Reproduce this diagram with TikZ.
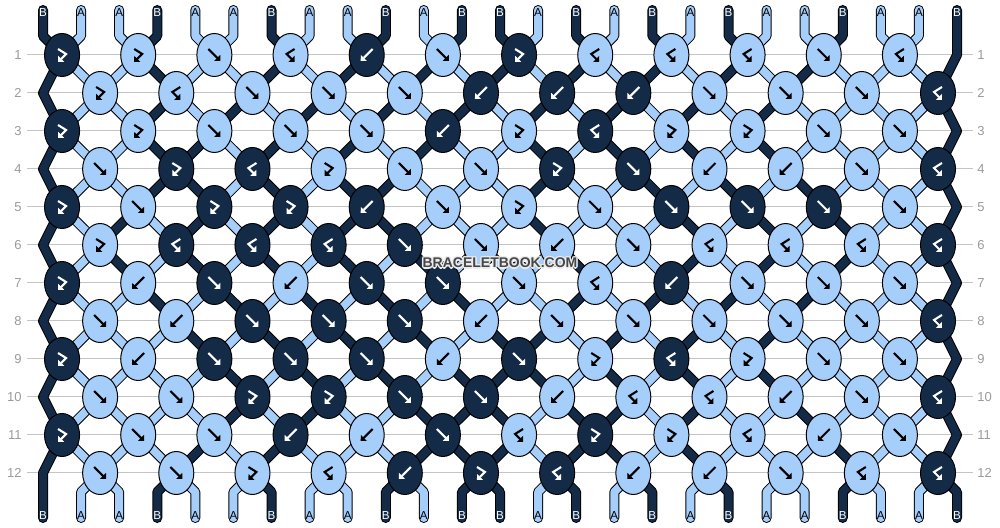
\documentclass[tikz,border=0pt]{standalone}
\usepackage{fontspec}
\setmainfont{Liberation Sans}
\usetikzlibrary{shapes.geometric,arrows.meta}
\definecolor{colA}{HTML}{A6CEFA}
\definecolor{colB}{HTML}{132B47}
\definecolor{rowgray}{HTML}{9A9A9A}
\definecolor{linegray}{HTML}{C4C4C4}
\tikzset{
  knot/.style={ellipse,draw=black,line width=0.5pt,minimum width=17.5pt,minimum height=21.5pt,inner sep=0pt},
  outline/.style={line width=5pt,draw=black,line cap=round,line join=round},
  strand/.style={line width=4pt,line cap=round,line join=round},
  glyph/.style={line width=1.05pt,line join=miter,-{Triangle[length=2.2pt,width=4.2pt]}},
  onA/.style={black},
  onB/.style={white},
  rownum/.style={text=rowgray,font=\fontsize{6.5}{7}\selectfont,inner sep=0pt},
  endlabel/.style={font=\fontsize{5.8}{6}\selectfont,inner sep=0pt},
  marktext/.style={font=\bfseries\fontsize{7}{8}\selectfont,inner sep=0pt},
  pics/glyph-f/.style={code={\draw[glyph] (-6,-6) -- (6,6);}},
  pics/glyph-b/.style={code={\draw[glyph] (6,-6) -- (-6,6);}},
  pics/glyph-fb/.style={code={\draw[glyph] (-4,-6) -- (4,-1) -- (-4,7);}},
  pics/glyph-bf/.style={code={\draw[glyph] (4,-6) -- (-4,-1) -- (4,7);}},
}
\def\topcols{B,A,A,B,A,A,B,A,A,B,A,B,B,A,B,A,B,A,B,A,A,B,A,A,B}
\def\botcols{B,A,A,B,A,A,B,A,A,B,A,B,B,A,B,A,B,A,B,A,A,B,A,A,B}
\def\knotrows{
  {B/fb,A/fb,A/f,A/bf,B/b,A/f,B/fb,A/bf,A/bf,A/bf,A/f,A/bf},
  {A/fb,A/bf,A/f,A/f,A/f,B/b,B/b,B/b,A/f,A/f,A/f,B/bf},
  {B/fb,A/fb,A/f,A/f,A/f,B/b,A/fb,B/bf,A/fb,A/fb,A/f,A/f},
  {A/f,B/fb,B/bf,A/fb,A/f,A/f,B/fb,B/f,A/b,A/b,A/f,B/bf},
  {B/fb,A/f,B/fb,B/fb,B/b,A/f,A/fb,A/f,B/f,B/f,B/f,A/f},
  {A/fb,B/bf,B/bf,B/bf,B/f,A/f,A/b,A/f,A/bf,A/bf,A/bf,B/bf},
  {B/fb,A/b,B/f,A/b,B/f,B/f,A/f,A/bf,B/b,A/f,A/f,A/f},
  {A/f,A/b,B/f,B/f,B/f,A/b,A/f,A/f,A/f,A/f,A/f,B/bf},
  {B/fb,A/b,B/f,B/f,B/f,A/b,B/f,A/fb,B/bf,A/fb,A/f,A/f},
  {A/f,A/f,B/fb,B/fb,B/f,B/f,A/b,A/bf,A/bf,A/b,A/f,B/bf},
  {B/fb,A/f,A/f,B/b,A/b,B/f,A/bf,B/fb,A/fb,A/bf,A/b,A/f},
  {A/f,A/f,A/fb,A/bf,B/b,B/fb,B/bf,A/b,A/b,A/f,A/bf,B/bf}}
\def\strandrows{
  {B,A,A,B,A,A,B,A,A,B,A,B,B,A,B,A,B,A,B,A,A,B,A,A,B},
  {B,A,A,B,A,A,B,A,B,A,B,A,B,A,B,A,B,A,B,A,B,A,A,A,B},
  {B,A,A,B,A,B,A,B,A,B,A,B,A,B,A,B,A,B,A,B,A,A,A,A,B},
  {B,A,A,B,B,A,B,A,B,A,B,A,A,B,A,B,A,B,A,B,A,A,A,A,B},
  {B,A,A,B,B,A,B,A,B,B,A,A,A,B,A,A,B,A,B,A,B,A,A,A,B},
  {B,A,B,A,B,A,B,A,B,B,A,A,A,B,A,A,A,B,A,B,A,B,A,A,B},
  {B,A,B,A,B,A,B,A,B,A,B,A,A,A,B,A,A,B,A,B,A,B,A,A,B},
  {B,A,A,B,A,B,A,B,A,B,A,B,A,A,B,A,B,A,B,A,B,A,A,A,B},
  {B,A,A,A,B,A,B,A,B,A,B,A,B,B,A,B,A,B,A,B,A,A,A,A,B},
  {B,A,A,A,A,B,A,B,A,B,A,B,B,B,A,B,A,B,A,B,A,A,A,A,B},
  {B,A,A,A,A,B,A,B,A,A,B,B,B,A,B,B,A,B,A,A,B,A,A,A,B},
  {B,A,A,A,B,A,B,A,A,A,B,B,B,A,B,B,A,B,A,A,A,B,A,A,B},
  {B,A,A,B,A,A,B,A,A,B,A,B,B,A,B,A,B,A,B,A,A,B,A,A,B}}
\newcommand\drawstrands{%
  \draw[piece=B] (t-1) -- (tt-1) \foreach \r [evaluate=\r as \s using int(\r+1)] in {1,3,...,11} { -- (c-\r-1) -- (e-\s) } -- (bb-1) -- (b-1);
  \draw[piece=B] (t-25) \foreach \r [evaluate=\r as \s using int(\r+1)] in {1,3,...,11} { -- (e-\r) -- (c-\s-12) } -- (bb-25) -- (b-25);
  \foreach \st [count=\i from 0] in \strandrows {
    \foreach \c [count=\p] in \st {
      \ifnum\p>1 \ifnum\p<25
        \pgfmathtruncatemacro\j{\i+1}
        \pgfmathtruncatemacro\ka{floor((\p+mod(\i,2))/2)}
        \pgfmathtruncatemacro\kb{floor((\p+mod(\j,2))/2)}
        \ifnum\i=0
          \draw[piece=\c] (t-\p) -- (tt-\p) -- (c-1-\kb);
        \else\ifnum\i=12
          \draw[piece=\c] (c-12-\ka) -- (bb-\p) -- (b-\p);
        \else
          \draw[piece=\c] (c-\i-\ka) -- (c-\j-\kb);
        \fi\fi
      \fi\fi
    }
  }}
\begin{document}
\begin{tikzpicture}[x=0.5pt,y=-0.5pt]
\useasboundingbox (0,0) rectangle (1000,528);

\foreach \r in {1,...,12} {
  \draw[linegray,line width=0.5pt] (27,{55+38*(\r-1)}) -- (973,{55+38*(\r-1)});
  \node[rownum,anchor=east] (nl-\r) at (22,{55+38*(\r-1)}) {\r};
  \node[rownum,anchor=west] (nr-\r) at (977,{55+38*(\r-1)}) {\r};
}

\foreach \row [count=\r] in \knotrows {
  \pgfmathsetmacro\y{55+38*(\r-1)}
  \pgfmathsetmacro\xs{ifthenelse(mod(\r,2)==1,62.04,100.12)}
  \foreach \c/\t [count=\k] in \row
    \coordinate (c-\r-\k) at ({\xs+76.17*(\k-1)},\y);
}
\foreach \r in {2,4,...,12}
  \coordinate (e-\r) at (43,{55+38*(\r-1)});
\foreach \r in {1,3,...,11}
  \coordinate (e-\r) at (957,{55+38*(\r-1)});
\foreach \p in {1,...,25} {
  \coordinate (t-\p) at ({43+38.083*(\p-1)},10);
  \coordinate (tt-\p) at ({43+38.083*(\p-1)},36);
  \coordinate (bb-\p) at ({43+38.083*(\p-1)},492);
  \coordinate (b-\p) at ({43+38.083*(\p-1)},518);
}

\tikzset{piece/.style={outline}}
\drawstrands
\tikzset{piece/.style={strand,draw=col#1}}
\drawstrands

\foreach \row [count=\r] in \knotrows {
  \foreach \c/\t [count=\k] in \row {
    \node[knot,fill=col\c] (k-\r-\k) at (c-\r-\k) {};
    \pic[on\c] at (k-\r-\k) {glyph-\t};
  }
}

\foreach \c [count=\p] in \topcols
  \node[endlabel,on\c] (lt-\p) at (t-\p) [yshift=-1.5pt] {\c};
\foreach \c [count=\p] in \botcols
  \node[endlabel,on\c] (lb-\p) at (b-\p) [yshift=1pt] {\c};

\foreach \dx/\dy [count=\n] in {-1/-1,1/-1,-1/1,1/1,0/-1.4,0/1.4,-1.4/0,1.4/0}
  \node[marktext,text=white!85!gray] (halo-\n) at (500+\dx,263+\dy) {BRACELETBOOK.COM};
\node[marktext,text=black!72] (mark) at (500,263) {BRACELETBOOK.COM};
\end{tikzpicture}
\end{document}
